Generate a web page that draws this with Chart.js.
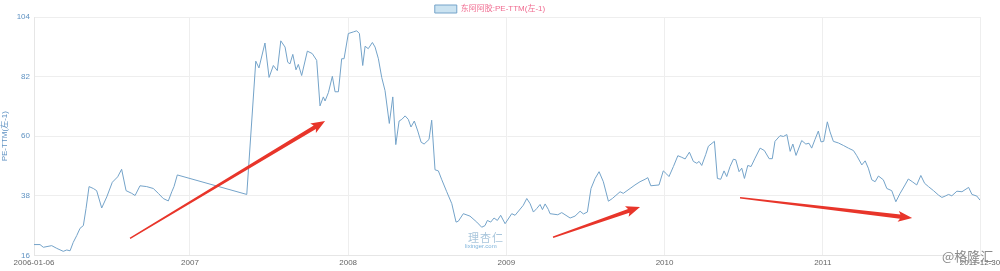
<!DOCTYPE html>
<html>
<head>
<meta charset="utf-8">
<script src="https://cdn.jsdelivr.net/npm/chart.js@4/dist/chart.umd.min.js"></script>
<style>
  html, body { margin: 0; padding: 0; background: #fff; }
  #wrap { position: relative; width: 1000px; height: 271px; }
  .mark { position: absolute; font-family: "Noto Sans CJK SC", sans-serif; pointer-events: none; }
</style>
</head>
<body>
<div id="wrap">
  <canvas id="peChart" width="1000" height="271"></canvas>
  <div class="mark" style="left:468px;top:229px;font-size:11px;color:#a9c6dc;letter-spacing:1px;">理杏仁</div>
  <div class="mark" style="left:465px;top:243px;font-size:6px;color:#7fb4dc;font-family:'Liberation Sans',sans-serif;">lixinger.com</div>
  <div class="mark" style="left:942px;top:246px;font-size:13px;color:#8a8a8a;">@格隆汇</div>
</div>
<script>
// time as decimal year, weekly-ish samples
const years = [
  2006.014, 2006.052, 2006.073, 2006.126, 2006.158, 2006.199, 2006.221, 2006.242, 2006.262, 2006.284,
  2006.305, 2006.326, 2006.343, 2006.362, 2006.389, 2006.410, 2006.442, 2006.474, 2006.509, 2006.543,
  2006.568, 2006.596, 2006.632, 2006.653, 2006.684, 2006.726, 2006.768, 2006.800, 2006.831, 2006.863,
  2006.885, 2006.899, 2006.920, 2007.359, 2007.416, 2007.436, 2007.474, 2007.500, 2007.527, 2007.552,
  2007.574, 2007.601, 2007.618, 2007.632, 2007.650, 2007.670, 2007.685, 2007.706, 2007.742, 2007.773,
  2007.801, 2007.822, 2007.843, 2007.854, 2007.875, 2007.900, 2007.917, 2007.938, 2007.959, 2007.974,
  2008.001, 2008.033, 2008.054, 2008.071, 2008.092, 2008.107, 2008.127, 2008.153, 2008.170, 2008.191,
  2008.212, 2008.233, 2008.260, 2008.282, 2008.301, 2008.322, 2008.339, 2008.360, 2008.380, 2008.397,
  2008.418, 2008.440, 2008.461, 2008.480, 2008.511, 2008.528, 2008.549, 2008.570, 2008.592, 2008.623,
  2008.655, 2008.682, 2008.696, 2008.728, 2008.770, 2008.813, 2008.844, 2008.865, 2008.880, 2008.901,
  2008.922, 2008.943, 2008.964, 2008.992, 2009.034, 2009.055, 2009.107, 2009.129, 2009.150, 2009.171,
  2009.192, 2009.213, 2009.228, 2009.245, 2009.265, 2009.276, 2009.325, 2009.350, 2009.403, 2009.434,
  2009.466, 2009.487, 2009.512, 2009.535, 2009.561, 2009.586, 2009.613, 2009.645, 2009.670, 2009.719,
  2009.739, 2009.782, 2009.813, 2009.845, 2009.877, 2009.894, 2009.913, 2009.965, 2009.992, 2010.014,
  2010.028, 2010.056, 2010.084, 2010.109, 2010.130, 2010.157, 2010.182, 2010.204, 2010.218, 2010.235,
  2010.260, 2010.277, 2010.315, 2010.334, 2010.355, 2010.376, 2010.393, 2010.414, 2010.435, 2010.450,
  2010.471, 2010.488, 2010.505, 2010.526, 2010.547, 2010.572, 2010.604, 2010.631, 2010.661, 2010.681,
  2010.698, 2010.730, 2010.751, 2010.773, 2010.794, 2010.811, 2010.831, 2010.867, 2010.893, 2010.913,
  2010.930, 2010.951, 2010.972, 2010.989, 2011.006, 2011.029, 2011.046, 2011.067, 2011.099, 2011.130,
  2011.162, 2011.194, 2011.215, 2011.247, 2011.268, 2011.288, 2011.310, 2011.331, 2011.352, 2011.383,
  2011.405, 2011.436, 2011.462, 2011.489, 2011.520, 2011.541, 2011.566, 2011.594, 2011.620, 2011.644,
  2011.668, 2011.700, 2011.731, 2011.753, 2011.774, 2011.795, 2011.816, 2011.848, 2011.880, 2011.922,
  2011.943, 2011.974, 2011.994
];
const pe = [
  20.0, 20.0, 19.0, 19.6, 18.6, 17.5, 18.0, 17.7, 20.8, 23.3,
  26.0, 27.0, 33.3, 41.4, 40.7, 39.9, 33.5, 37.6, 43.0, 45.0,
  47.8, 39.9, 38.9, 38.1, 41.7, 41.4, 40.7, 38.9, 37.0, 36.1,
  39.5, 41.4, 45.7, 38.5, 87.7, 85.2, 94.4, 81.7, 86.1, 84.2,
  95.2, 92.9, 87.3, 86.7, 90.2, 84.5, 86.5, 82.4, 91.4, 90.5,
  88.0, 71.2, 74.5, 73.0, 76.1, 82.1, 76.4, 76.4, 88.6, 88.6,
  97.9, 98.5, 98.9, 97.9, 86.1, 93.2, 92.3, 94.6, 92.9, 88.6,
  81.7, 76.8, 64.7, 74.5, 56.9, 65.6, 66.2, 67.5, 66.2, 63.4,
  65.6, 61.9, 57.8, 57.1, 58.8, 65.9, 47.6, 47.2, 43.9, 39.5,
  35.1, 28.3, 28.6, 31.4, 30.5, 28.3, 26.4, 27.0, 28.9, 28.3,
  29.8, 28.9, 30.8, 27.7, 31.4, 30.8, 34.5, 37.0, 35.1, 32.0,
  33.3, 34.8, 32.9, 35.0, 33.0, 31.4, 31.0, 31.8, 29.8, 30.5,
  32.3, 31.3, 32.0, 40.7, 44.4, 46.9, 43.2, 36.0, 37.0, 39.5,
  38.9, 40.7, 42.0, 43.2, 44.1, 44.7, 41.7, 42.0, 47.2, 46.0,
  45.1, 48.8, 52.8, 52.2, 51.6, 54.1, 50.7, 50.0, 50.7, 49.2,
  53.2, 56.3, 58.1, 44.4, 44.1, 47.2, 45.1, 48.8, 51.5, 51.3,
  46.9, 48.2, 44.4, 49.2, 48.8, 51.9, 55.6, 54.7, 51.7, 51.7,
  58.1, 60.2, 59.9, 60.6, 54.4, 57.1, 52.9, 58.4, 57.1, 57.4,
  55.6, 58.8, 61.9, 57.9, 58.1, 65.3, 61.6, 58.1, 57.5, 56.6,
  55.6, 54.7, 52.8, 49.4, 50.9, 48.2, 43.9, 43.2, 45.3, 43.9,
  40.7, 39.9, 35.8, 38.9, 42.0, 44.2, 43.2, 42.0, 45.5, 42.6,
  41.4, 39.9, 38.3, 37.4, 37.9, 38.5, 38.0, 39.7, 39.5, 41.1,
  38.5, 37.9, 36.4
];

const xTickValues = [2006.014, 2007, 2008, 2009, 2010, 2011, 2011.994];
const xTickLabels = ['2006-01-06', '2007', '2008', '2009', '2010', '2011', '2011-12-30'];
const yTicks = [16, 38, 60, 82, 104];

// red annotation arrows, [fromYear, fromPE, toYear, toPE]
const arrows = [
  [2006.621, 22.3, 2007.854, 65.6],
  [2009.295, 22.7, 2009.845, 33.9],
  [2010.477, 37.3, 2011.565, 29.8]
];

const points = years.map((y, i) => ({ x: y, y: pe[i] }));

const arrowPlugin = {
  id: 'arrows',
  beforeLayout(chart) {
    // keep the legend band short so the plot starts right under it
    const lg = chart.legend;
    if (lg && !lg._short) {
      const fit = lg.fit;
      lg.fit = function() { fit.call(this); this.height = 17; };
      lg._short = true;
    }
  },
  afterDatasetsDraw(chart) {
    const ctx = chart.ctx;
    const xs = chart.scales.x, ys = chart.scales.y;
    ctx.save();
    ctx.fillStyle = '#e8352a';
    arrows.forEach(a => {
      const x1 = xs.getPixelForValue(a[0]), y1 = ys.getPixelForValue(a[1]);
      const x2 = xs.getPixelForValue(a[2]), y2 = ys.getPixelForValue(a[3]);
      const ang = Math.atan2(y2 - y1, x2 - x1);
      const len = Math.hypot(x2 - x1, y2 - y1);
      ctx.translate(x1, y1);
      ctx.rotate(ang);
      ctx.beginPath();
      ctx.moveTo(0, -0.7);
      ctx.lineTo(len - 12, -2.1);
      ctx.lineTo(len - 14, -5.5);
      ctx.lineTo(len, 0);
      ctx.lineTo(len - 14, 5.5);
      ctx.lineTo(len - 12, 2.1);
      ctx.lineTo(0, 0.7);
      ctx.closePath();
      ctx.fill();
      ctx.setTransform(1, 0, 0, 1, 0, 0);
    });
    ctx.restore();
  }
};

const font = '"Liberation Sans", "Noto Sans CJK SC", sans-serif';

new Chart(document.getElementById('peChart').getContext('2d'), {
  type: 'line',
  data: {
    datasets: [{
      label: '东阿阿胶:PE-TTM(左-1)',
      data: points,
      borderColor: '#74a3c9',
      backgroundColor: 'rgba(190,220,238,0.8)',
      borderWidth: 1,
      pointRadius: 0,
      tension: 0,
      fill: false
    }]
  },
  options: {
    responsive: false,
    animation: false,
    layout: { padding: { left: 0, right: 20, top: 0, bottom: 0 } },
    plugins: {
      legend: {
        position: 'top',
        labels: {
          boxWidth: 22,
          boxHeight: 8,
          padding: 5,
          color: '#f06a8f',
          font: { family: font, size: 8 }
        }
      },
      tooltip: { enabled: false }
    },
    scales: {
      x: {
        type: 'linear',
        min: xTickValues[0],
        max: xTickValues[xTickValues.length - 1],
        afterBuildTicks: s => { s.ticks = xTickValues.map(v => ({ value: v })); },
        afterFit: s => { s.paddingRight = 0; s.paddingLeft = 0; },
        ticks: {
          autoSkip: false,
          maxRotation: 0,
          color: '#666',
          font: { family: font, size: 8 },
          padding: 3,
          callback: (v, i) => xTickLabels[i]
        },
        grid: { color: '#eeeeee', drawTicks: false },
        border: { color: '#e6e6e6' }
      },
      y: {
        min: yTicks[0],
        max: yTicks[yTicks.length - 1],
        afterBuildTicks: s => { s.ticks = yTicks.map(v => ({ value: v })); },
        afterFit: s => { s.width = 34; },
        ticks: {
          color: '#5f92c2',
          font: { family: font, size: 8 },
          padding: 4
        },
        title: {
          display: true,
          text: 'PE-TTM(左-1)',
          color: '#5f92c2',
          font: { family: font, size: 8 },
          padding: 0
        },
        grid: { color: '#eeeeee', drawTicks: false },
        border: { color: '#e6e6e6' }
      }
    }
  },
  plugins: [arrowPlugin]
});
</script>
</body>
</html>
